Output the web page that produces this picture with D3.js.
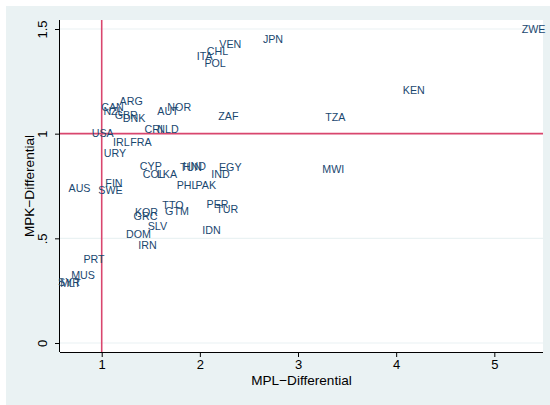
<!DOCTYPE html>
<html>
<head>
<meta charset="utf-8">
<script src="https://cdn.jsdelivr.net/npm/d3@7"></script>
<style>
  html, body { margin: 0; padding: 0; background: #ffffff; }
  svg text { font-family: "Liberation Sans", Arial, Helvetica, sans-serif; }
</style>
</head>
<body>
<svg id="chart" width="550" height="405"></svg>
<script>
// Country codes with their MPL and MPK differentials
const countries = ["ARG","CAN","NZL","GBR","DNK","AUT","NOR","ZAF","CRI","NLD",
  "USA","IRL","FRA","URY","CYP","COL","LKA","TUN","HND","EGY",
  "IND","PHL","PAK","AUS","FIN","SWE","TTO","GTM","KOR","GRC",
  "PER","TUR","SLV","IDN","DOM","IRN","PRT","MUS","SYR","MLT",
  "VEN","JPN","CHL","ITA","POL","ZWE","KEN","TZA","MWI"];
const mplDiff = [1.30,1.11,1.12,1.25,1.33,1.675,1.79,2.29,1.53,1.675,
  1.01,1.20,1.40,1.135,1.50,1.53,1.665,1.91,1.945,2.31,
  2.21,1.87,2.06,0.774,1.125,1.09,1.726,1.767,1.456,1.446,
  2.18,2.28,1.568,2.118,1.375,1.466,0.922,0.81,0.667,0.682,
  2.31,2.745,2.18,2.05,2.155,5.40,4.18,3.38,3.36];
const mpkDiff = [1.156,1.129,1.108,1.089,1.075,1.108,1.128,1.085,1.022,1.022,
  1.003,0.960,0.960,0.908,0.846,0.808,0.808,0.841,0.846,0.841,
  0.808,0.755,0.755,0.741,0.764,0.731,0.659,0.630,0.626,0.607,
  0.662,0.638,0.559,0.540,0.521,0.468,0.401,0.325,0.291,0.287,
  1.429,1.452,1.395,1.371,1.338,1.500,1.209,1.080,0.831];

// Axis ticks and the reference lines at 1
const xTicks = [1, 2, 3, 4, 5];
const yTicks = [0, 0.5, 1, 1.5];
const yTickLabels = ["0", ".5", "1", "1.5"];
const refX = 1, refY = 1;

const svg = d3.select("#chart");
const W = 550, H = 405;
const plot = { left: 60, right: 543, top: 20, bottom: 352 };

// Graph background
svg.append("rect").attr("x", 6).attr("y", 6).attr("width", W - 6).attr("height", H - 6)
  .attr("fill", "#eaf2f3");
svg.append("rect").attr("x", plot.left).attr("y", plot.top)
  .attr("width", plot.right - plot.left).attr("height", plot.bottom - plot.top)
  .attr("fill", "#ffffff");

const x = d3.scaleLinear().domain([0.5751, 5.496]).range([plot.left, plot.right]);
const y = d3.scaleLinear().domain([-0.043, 1.543]).range([plot.bottom, plot.top]);

// Horizontal gridlines
svg.append("g").selectAll("line").data(yTicks).join("line")
  .attr("x1", plot.left).attr("x2", plot.right)
  .attr("y1", d => y(d)).attr("y2", d => y(d))
  .attr("stroke", "#eaf2f3").attr("stroke-width", 1.2);

// Reference lines
svg.append("line")
  .attr("x1", x(refX)).attr("x2", x(refX)).attr("y1", plot.top).attr("y2", plot.bottom)
  .attr("stroke", "#d9466e").attr("stroke-width", 1.6);
svg.append("line")
  .attr("x1", plot.left).attr("x2", plot.right).attr("y1", y(refY)).attr("y2", y(refY))
  .attr("stroke", "#d9466e").attr("stroke-width", 1.6);

// Axes
const xAxis = d3.axisBottom(x).tickValues(xTicks).tickFormat(d3.format("d"))
  .tickSize(5).tickPadding(3);
const gx = svg.append("g").attr("transform", `translate(0,${plot.bottom})`).call(xAxis);
gx.select(".domain").attr("d", `M${plot.left},0.5H${plot.right}`).attr("stroke", "#000").attr("stroke-width", 1);
gx.selectAll(".tick line").attr("stroke", "#000");
gx.selectAll(".tick text").attr("font-size", 13).attr("fill", "#000")
  .attr("font-family", "Liberation Sans, Arial, sans-serif");

const yAxis = d3.axisLeft(y).tickValues(yTicks).tickFormat((d, i) => yTickLabels[i])
  .tickSize(5).tickPadding(3);
const gy = svg.append("g").attr("transform", `translate(${plot.left},0)`).call(yAxis);
gy.select(".domain").attr("d", `M-0.5,${plot.top}V${plot.bottom}`).attr("stroke", "#000").attr("stroke-width", 1);
gy.selectAll(".tick line").attr("stroke", "#000");
gy.selectAll(".tick text")
  .attr("font-size", 13).attr("fill", "#000")
  .attr("font-family", "Liberation Sans, Arial, sans-serif")
  .attr("text-anchor", "middle")
  .attr("x", null).attr("dy", null)
  .attr("transform", "translate(-13,0) rotate(-90)")
  .attr("y", 0);

// Axis titles
svg.append("text").attr("x", (plot.left + plot.right) / 2).attr("y", 385)
  .attr("text-anchor", "middle").attr("font-size", 13.6).attr("fill", "#000")
  .text("MPL\u2212Differential");
svg.append("text")
  .attr("transform", `translate(34,${(plot.top + plot.bottom) / 2}) rotate(-90)`)
  .attr("text-anchor", "middle").attr("font-size", 13.6).attr("fill", "#000")
  .text("MPK\u2212Differential");

// Country labels centred on each point
const pts = countries.map((c, i) => ({ c, mpl: mplDiff[i], mpk: mpkDiff[i] }));
svg.append("g").selectAll("text").data(pts).join("text")
  .attr("x", d => x(d.mpl)).attr("y", d => y(d.mpk))
  .attr("dy", "0.36em")
  .attr("text-anchor", "middle")
  .attr("font-size", 10.7)
  .attr("fill", "#1a476f")
  .text(d => d.c);
</script>
</body>
</html>
